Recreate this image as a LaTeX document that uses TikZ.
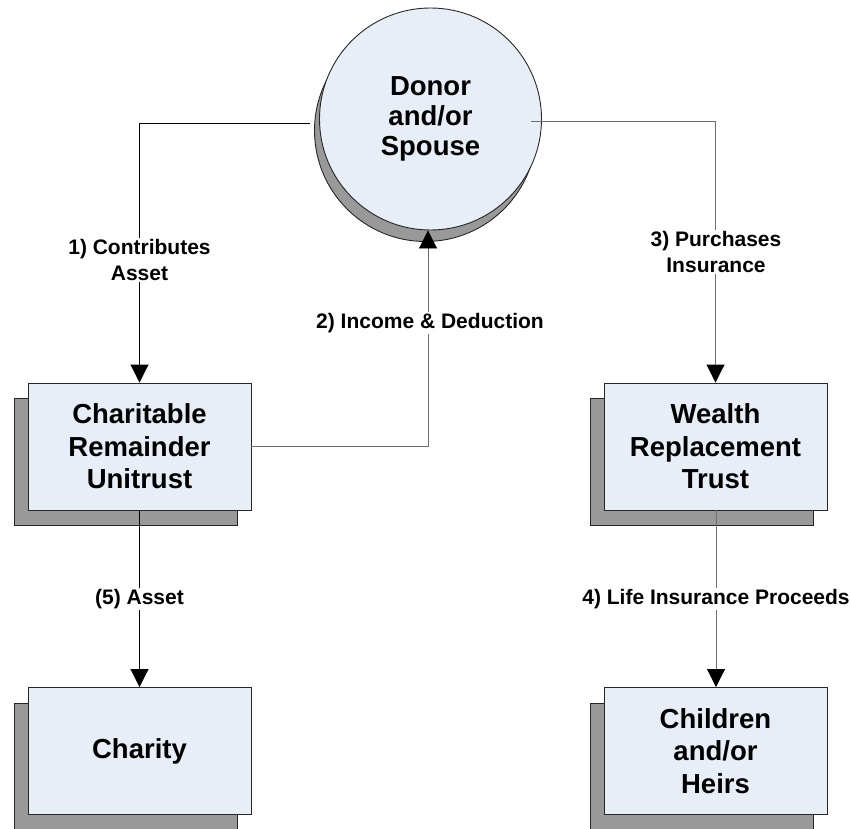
\documentclass[tikz,border=0pt]{standalone}
\usepackage{fontspec}
\setmainfont{Liberation Sans}
\usetikzlibrary{arrows.meta}
\definecolor{boxfill}{HTML}{E8EEF7}
\definecolor{shadowgray}{HTML}{999999}
\definecolor{linegray}{HTML}{6E6E6E}
\begin{document}
\begin{tikzpicture}[x=1pt,y=-1pt,
  box/.style={draw=black!85, fill=boxfill, minimum width=223pt, minimum height=127pt,
    inner sep=0pt, align=center, line width=0.9pt,
    font=\bfseries\fontsize{27.5}{32.5}\selectfont},
  shad/.style={draw=black!85, fill=shadowgray, minimum width=223pt, minimum height=127pt,
    inner sep=0pt, line width=0.9pt},
  circ/.style={circle, draw=black!85, fill=boxfill, minimum size=222pt, inner sep=0pt,
    align=center, line width=0.9pt, font=\bfseries\fontsize{27.5}{30}\selectfont},
  circshad/.style={circle, draw=black!85, fill=shadowgray, minimum size=222pt, inner sep=0pt,
    line width=0.9pt},
  conn/.style={line width=0.9pt, -{Triangle[length=18pt,width=18pt,color=black]}},
  lab/.style={fill=white, inner sep=1.5pt, align=center,
    font=\bfseries\fontsize{21}{25.5}\selectfont}
]
\useasboundingbox (0,0) rectangle (851,829);
\clip (0,0) rectangle (851,829);

% shadows
\node[circshad] (donorS) at (425.5,130.5) {};
\node[shad] (cruS) at (125.5,462) {};
\node[shad] (wrtS) at (701.5,462) {};
\node[shad] (chaS) at (125.5,766.5) {};
\node[shad] (heiS) at (701.5,766.5) {};

% main nodes
\node[circ] (donor) at (430.5,119) {Donor\\and/or\\Spouse};
\node[box] (cru) at (139.5,446.5) {Charitable\\Remainder\\Unitrust};
\node[box] (wrt) at (715.5,446.5) {Wealth\\Replacement\\Trust};
\node[box] (cha) at (139.5,751) {Charity};
\node[box] (hei) at (715.5,751) {Children\\and/or\\Heirs};

% connectors
\draw[conn, draw=black] ([xshift=-9pt,yshift=-4pt]donor.west) -| (cru.north);
\draw[conn, draw=linegray] ([xshift=-11pt,yshift=-2pt]donor.east) -| (wrt.north);
\draw[conn, draw=linegray] (cru.east) -| ([xshift=-2.5pt]donor.south);
\draw[conn, draw=black] (cru.south) -- (cha.north);
\draw[conn, draw=linegray] ([xshift=0.5pt]wrt.south) -- ([xshift=0.5pt]hei.north);

% labels
\node[lab] (l1) at (139.5,260) {1) Contributes\\Asset};
\node[lab] (l3) at (716,252) {3) Purchases\\Insurance};
\node[lab] (l2) at (430,323) {2) Income \& Deduction};
\node[lab] (l5) at (139.5,599) {(5) Asset};
\node[lab] (l4) at (716,599) {4) Life Insurance Proceeds};
\end{tikzpicture}
\end{document}
